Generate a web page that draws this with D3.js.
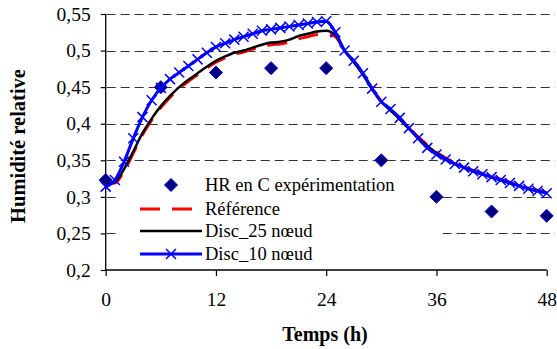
<!DOCTYPE html>
<html><head><meta charset="utf-8">
<script src="https://cdn.jsdelivr.net/npm/d3@7"></script>
<style>
body{margin:0;background:#fff;}
text{font-family:"Liberation Serif","Times New Roman",serif;}
</style></head>
<body><svg id="c" width="557" height="349"></svg>
<script>
// ---- data ----
const hours = d3.range(0, 49); // 0..48 h
const expTimes = [0, 6, 12, 18, 24, 30, 36, 42, 48];
const expValues = [0.323, 0.450, 0.470, 0.476, 0.476, 0.350, 0.300, 0.280, 0.274];
const refValues = [0.318,0.319,0.335,0.360,0.385,0.405,0.422,0.436,0.448,0.458,0.467,0.476,0.484,0.490,0.495,0.498,0.502,0.505,0.508,0.509,0.512,0.516,0.519,0.522,0.523,0.519,0.500,0.485,0.468,0.448,0.431,0.419,0.408,0.395,0.382,0.371,0.361,0.353,0.346,0.341,0.336,0.332,0.328,0.324,0.320,0.316,0.312,0.309,0.306];
const disc25Values = [0.318,0.320,0.338,0.362,0.387,0.407,0.424,0.438,0.450,0.460,0.469,0.478,0.486,0.492,0.497,0.500,0.504,0.508,0.511,0.512,0.515,0.520,0.523,0.526,0.527,0.521,0.500,0.484,0.467,0.447,0.430,0.418,0.406,0.393,0.381,0.370,0.360,0.352,0.345,0.340,0.335,0.331,0.327,0.323,0.319,0.315,0.311,0.308,0.306];
const disc10Values = [0.314,0.323,0.348,0.380,0.409,0.432,0.449,0.461,0.470,0.479,0.488,0.497,0.505,0.510,0.515,0.519,0.523,0.527,0.529,0.531,0.533,0.535,0.537,0.539,0.540,0.525,0.500,0.486,0.469,0.448,0.430,0.420,0.408,0.394,0.380,0.367,0.358,0.351,0.345,0.340,0.335,0.331,0.327,0.323,0.319,0.315,0.311,0.308,0.305];
const xTicks = [0, 12, 24, 36, 48];
const yTicks = [0.2, 0.25, 0.3, 0.35, 0.4, 0.45, 0.5, 0.55];
const gridTicks = [0.25, 0.3, 0.35, 0.4, 0.45, 0.5, 0.55];
const legendLabels = ["HR en C expérimentation", "Référence", "Disc_25 nœud", "Disc_10 nœud"];
const yTitle = "Humidité relative";
const xTitle = "Temps (h)";

// ---- chart ----
const FONT = "'Liberation Serif', 'Times New Roman', serif";
const svg = d3.select("#c");
const L = 105.7, R = 546.7, T = 14, B = 270;
const x = d3.scaleLinear().domain([0, 48]).range([L, R]);
const y = d3.scaleLinear().domain([0.2, 0.55]).range([B, T]);
const fmt = d => d3.format(".2~f")(d).replace(".", ",");

// grid
svg.append("g").selectAll("line").data(gridTicks).join("line")
  .attr("x1", L + 1).attr("x2", 555)
  .attr("y1", d => Math.round(y(d)) + 0.5).attr("y2", d => Math.round(y(d)) + 0.5)
  .attr("stroke", "#333").attr("stroke-width", 1).attr("stroke-dasharray", "9,5");

// legend background
svg.append("rect").attr("x", 120).attr("y", 171).attr("width", 322).attr("height", 94).attr("fill", "#fff");

// axes
const yAxis = svg.append("g").attr("transform", `translate(${L},0)`)
  .call(d3.axisLeft(y).tickValues(yTicks).tickFormat(fmt).tickSize(5).tickPadding(10));
const xAxis = svg.append("g").attr("transform", `translate(0,${B})`)
  .call(d3.axisBottom(x).tickValues(xTicks).tickSize(6).tickPadding(16));
[yAxis, xAxis].forEach(a => {
  a.attr("font-family", FONT);
  a.select(".domain").attr("stroke", "#000").attr("stroke-width", 1.3);
  a.selectAll(".tick line").attr("stroke", "#000").attr("stroke-width", 1.2);
  a.selectAll("text").attr("fill", "#000").attr("font-size", 19.5).attr("font-family", FONT);
});
yAxis.select(".domain").attr("d", `M0,${B}V${T}`);
xAxis.select(".domain").attr("d", `M${L},0H${R}`);

// titles
svg.append("text").attr("x", 325).attr("y", 341).attr("text-anchor", "middle").attr("font-family", FONT)
  .attr("font-size", 20).attr("font-weight", "bold").text(xTitle);
svg.append("text").attr("transform", "translate(25,146) rotate(-90)").attr("text-anchor", "middle").attr("font-family", FONT)
  .attr("font-size", 20.5).attr("font-weight", "bold").text(yTitle);

// diamonds
const diamondPath = (cx, cy, r) => `M${cx},${cy - r}L${cx + r},${cy}L${cx},${cy + r}L${cx - r},${cy}Z`;
svg.append("g").selectAll("path").data(expTimes.map((t, i) => [t, expValues[i]])).join("path")
  .attr("d", d => diamondPath(x(d[0]), y(d[1]), 6.5))
  .attr("fill", "#000080").attr("stroke", "#0000cc").attr("stroke-width", 1);

const line = d3.line().x((d, i) => x(hours[i])).y(d => y(d)).curve(d3.curveMonotoneX);
svg.append("path").attr("d", line(refValues)).attr("fill", "none")
  .attr("stroke", "#ff0000").attr("stroke-width", 3).attr("stroke-dasharray", "20,12");
svg.append("path").attr("d", line(disc25Values)).attr("fill", "none")
  .attr("stroke", "#000").attr("stroke-width", 2.5);
svg.append("path").attr("d", line(disc10Values)).attr("fill", "none")
  .attr("stroke", "#0000ff").attr("stroke-width", 3);
const cross = (cx, cy, r) => `M${cx - r},${cy - r}L${cx + r},${cy + r}M${cx - r},${cy + r}L${cx + r},${cy - r}`;
svg.append("g").selectAll("path").data(disc10Values).join("path")
  .attr("d", (d, i) => cross(x(hours[i]), y(d), 5))
  .attr("stroke", "#0000ff").attr("stroke-width", 1.5).attr("fill", "none");

// legend
const lx1 = 140, lx2 = 202, lmid = 171, tx = 205;
const ly = [185, 209, 231, 254];
const lg = svg.append("g");
lg.append("path").attr("d", diamondPath(lmid, ly[0], 6.5)).attr("fill", "#000080").attr("stroke", "#0000cc");
lg.append("line").attr("x1", lx1).attr("x2", lx2).attr("y1", ly[1]).attr("y2", ly[1])
  .attr("stroke", "#ff0000").attr("stroke-width", 3).attr("stroke-dasharray", "20,12");
lg.append("line").attr("x1", lx1).attr("x2", lx2).attr("y1", ly[2]).attr("y2", ly[2])
  .attr("stroke", "#000").attr("stroke-width", 2.5);
lg.append("line").attr("x1", lx1).attr("x2", lx2).attr("y1", ly[3]).attr("y2", ly[3])
  .attr("stroke", "#0000ff").attr("stroke-width", 3);
lg.append("path").attr("d", cross(lmid, ly[3], 5)).attr("stroke", "#0000ff").attr("stroke-width", 1.5);
lg.selectAll("text").data(legendLabels).join("text")
  .attr("x", tx).attr("y", (d, i) => ly[i] + 6).attr("font-size", 18.5).attr("font-family", FONT)
  .attr("fill", "#000").text(d => d);
</script></body></html>
